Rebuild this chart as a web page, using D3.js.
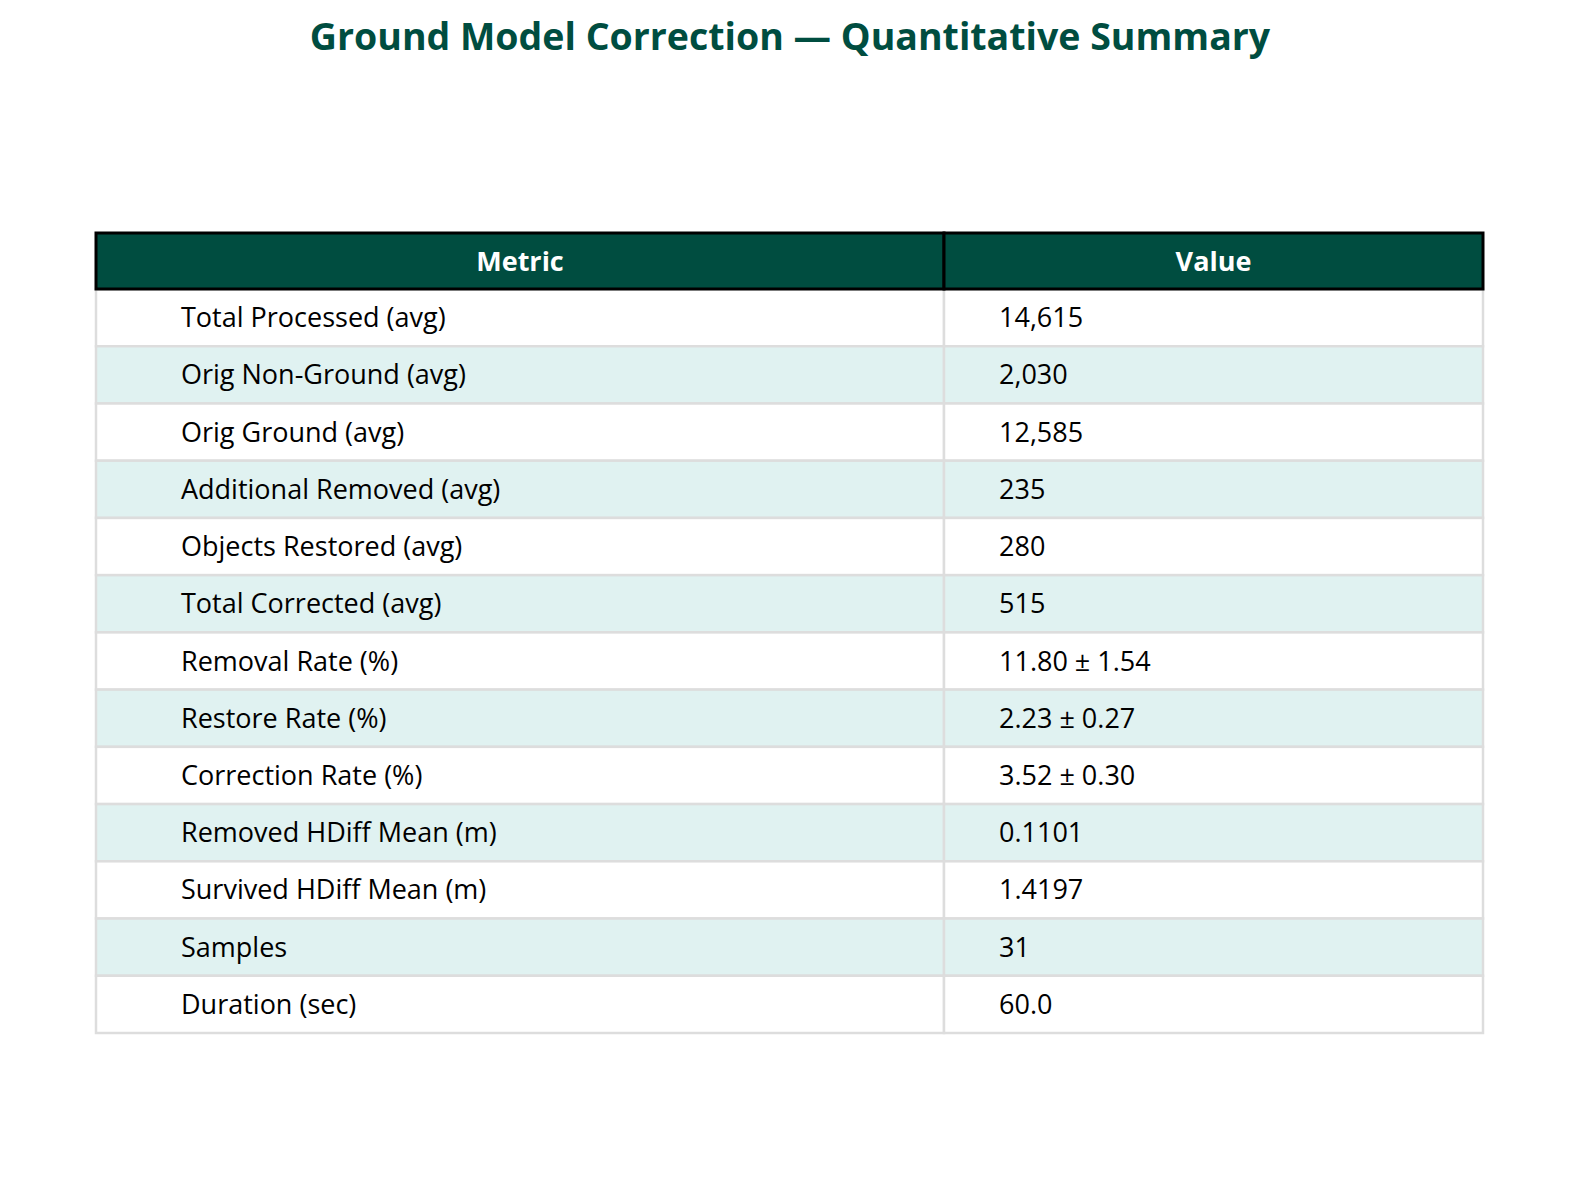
<!DOCTYPE html>
<html><head><meta charset="utf-8">
<script src="https://cdn.jsdelivr.net/npm/d3@7"></script>
<style>html,body{margin:0;padding:0;background:#fff;overflow:hidden;} svg{display:block;}</style>
</head><body>
<script>
const title = "Ground Model Correction — Quantitative Summary";
const headers = ["Metric", "Value"];
const metrics = ["Total Processed (avg)","Orig Non-Ground (avg)","Orig Ground (avg)","Additional Removed (avg)","Objects Restored (avg)","Total Corrected (avg)","Removal Rate (%)","Restore Rate (%)","Correction Rate (%)","Removed HDiff Mean (m)","Survived HDiff Mean (m)","Samples","Duration (sec)"];
const values = ["14,615","2,030","12,585","235","280","515","11.80 ± 1.54","2.23 ± 0.27","3.52 ± 0.30","0.1101","1.4197","31","60.0"];

const W = 1580, H = 1181;
const font = "'Open Sans', sans-serif";
const svg = d3.select("body").append("svg").attr("width", W).attr("height", H);

svg.append("text").attr("x", 790).attr("y", 50).attr("text-anchor", "middle")
  .attr("font-family", font).attr("font-weight", "bold").attr("font-size", 37.5)
  .attr("fill", "#004d40").text(title);

const left = 96, right = 1483, split = 944;
const headTop = 233, headH = 56;
const bodyTop = headTop + headH, bodyBottom = 1033;
const cols = [[left, split], [split, right]];

const y = d3.scaleBand().domain(d3.range(metrics.length)).range([bodyTop, bodyBottom]).padding(0);

const rows = svg.append("g").selectAll("g").data(metrics.map((m, i) => ({m, v: values[i], i}))).join("g");
cols.forEach((c) => {
  rows.append("rect").attr("x", c[0]).attr("y", d => y(d.i)).attr("width", c[1] - c[0]).attr("height", y.bandwidth())
    .attr("fill", d => d.i % 2 ? "#e0f2f1" : "#ffffff").attr("stroke", "#dddddd").attr("stroke-width", 2.5);
});
rows.append("text").attr("x", 181).attr("y", d => y(d.i) + y.bandwidth() / 2 + 9.5)
  .attr("font-family", font).attr("font-size", 27).attr("fill", "#000").text(d => d.m);
rows.append("text").attr("x", 999).attr("y", d => y(d.i) + y.bandwidth() / 2 + 9.5)
  .attr("font-family", font).attr("font-size", 27).attr("fill", "#000").text(d => d.v);

const hg = svg.append("g");
cols.forEach((c, ci) => {
  hg.append("rect").attr("x", c[0]).attr("y", headTop).attr("width", c[1] - c[0]).attr("height", headH)
    .attr("fill", "#004d40").attr("stroke", "#000").attr("stroke-width", 3);
  hg.append("text").attr("x", (c[0] + c[1]) / 2).attr("y", headTop + headH / 2 + 9.5)
    .attr("text-anchor", "middle").attr("font-family", font).attr("font-weight", "bold").attr("font-size", 27)
    .attr("fill", "#fff").text(headers[ci]);
});
</script>
</body></html>
